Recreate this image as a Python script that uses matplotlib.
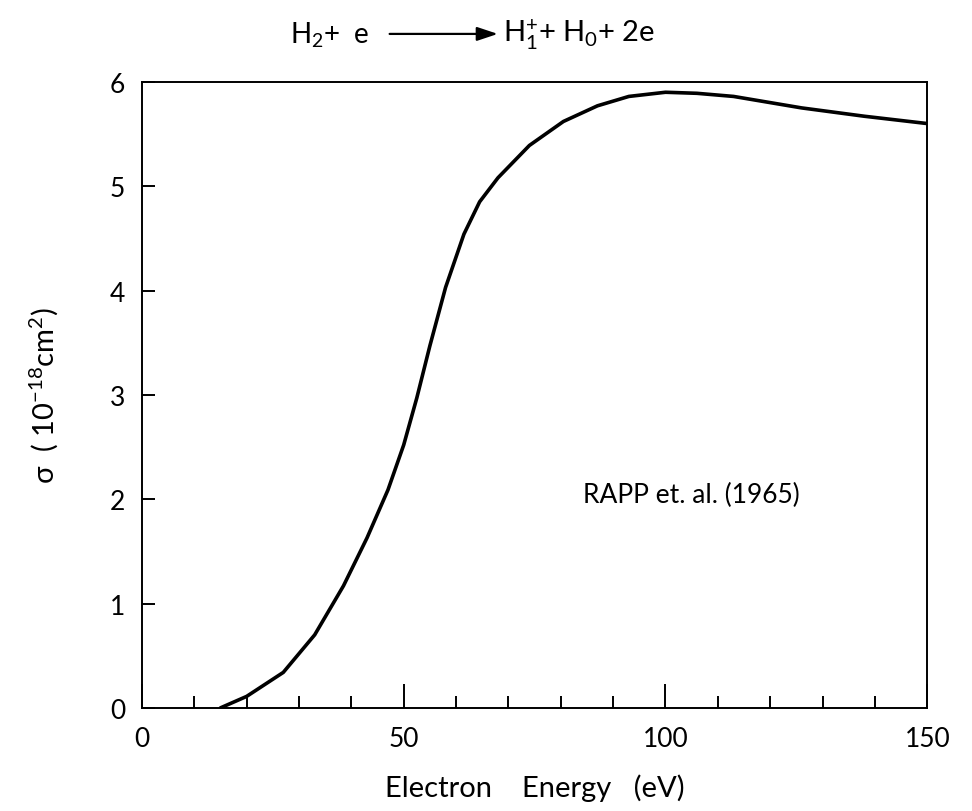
import numpy as np
import matplotlib
matplotlib.use("Agg")
import matplotlib.pyplot as plt

plt.rcParams['font.family'] = ['Lato', 'DejaVu Sans']
plt.rcParams['mathtext.fontset'] = 'custom'
plt.rcParams['mathtext.rm'] = 'Lato'
plt.rcParams['mathtext.it'] = 'Lato'

# values (Rapp et al. 1965)
energy = [15, 20, 27, 33, 38.5, 43, 47, 50, 52.5, 55, 58, 61.5, 64.5, 68,
          74, 80.5, 87, 93, 100, 106, 113, 126, 138, 150]
sigma = [0.0, 0.11, 0.34, 0.70, 1.17, 1.63, 2.09, 2.52, 2.97, 3.47, 4.03,
         4.54, 4.85, 5.08, 5.39, 5.62, 5.77, 5.86, 5.90, 5.89, 5.86, 5.75,
         5.67, 5.60]

xtick_labels = [0, 50, 100, 150]
ytick_labels = [0, 1, 2, 3, 4, 5, 6]

fig = plt.figure(figsize=(9.72, 8.12), dpi=100)
ax = fig.add_axes([0.146, 0.127, 0.808, 0.771])

ax.plot(energy, sigma, color='black', lw=2.6, solid_capstyle='round',
        solid_joinstyle='round')

ax.set_xlim(0, 150)
ax.set_ylim(0, 6)

# x ticks: small every 10, long at 50 and 100
ax.set_xticks(xtick_labels)
ax.set_xticks(np.arange(10, 150, 10), minor=True)
ax.tick_params(axis='x', which='major', direction='in', length=17, width=1.4,
               labelsize=19, pad=13, top=False)
ax.tick_params(axis='x', which='minor', direction='in', length=8.5, width=1.4,
               top=False)
ax.set_yticks(ytick_labels)
ax.tick_params(axis='y', which='major', direction='in', length=9, width=1.4,
               labelsize=19, pad=12, right=False)

for s in ax.spines.values():
    s.set_linewidth(1.4)

ax.set_xlabel('Electron    Energy   (eV)', fontsize=21, labelpad=16)
ax.set_ylabel(r'$\sigma$  ( 10$^{-18}$cm$^{2}$)', fontsize=21, labelpad=36)

ax.text(84.3, 2.05, 'RAPP et. al. (1965)', fontsize=19, ha='left', va='center')

# reaction written above the frame
fig.text(0.298, 0.957, r'H$_2$+  e', fontsize=20, ha='left', va='center')
fig.text(0.518, 0.957, r'H$_1^{+}$+ H$_0$+ 2e', fontsize=21, ha='left', va='center')
fig.patches.append(matplotlib.patches.FancyArrowPatch(
    (0.398, 0.957), (0.515, 0.957), transform=fig.transFigure,
    arrowstyle='-|>,head_length=0.9,head_width=0.3', color='black', lw=1.6,
    mutation_scale=14))

fig.savefig('out.png', dpi=100)
